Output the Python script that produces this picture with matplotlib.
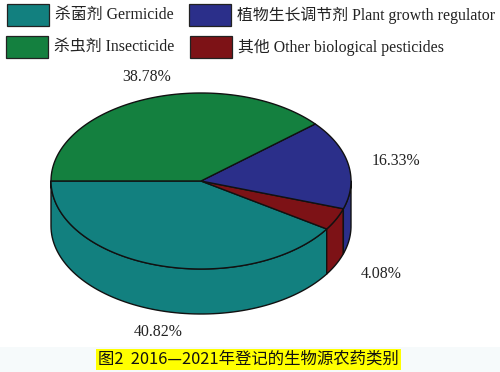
import numpy as np
import matplotlib
matplotlib.use("Agg")
import matplotlib.pyplot as plt
from matplotlib.patches import Polygon, Rectangle

categories = ["杀菌剂 Germicide", "其他 Other biological pesticides",
              "植物生长调节剂 Plant growth regulator", "杀虫剂 Insecticide"]
shares = [40.82, 4.08, 16.33, 38.78]
share_labels = ["40.82%", "4.08%", "16.33%", "38.78%"]
caption = "图2  2016—2021年登记的生物源农药类别"

colors = ["#12807f", "#7d1216", "#2b2f8a", "#14803f"]
FONTS = ["Liberation Serif", "Noto Sans CJK SC"]
CAP_FONTS = ["Noto Sans CJK SC"]
TEXT = "#222222"

cx, cy, rx, ry, depth = 201, 181, 150, 88, 45

fig = plt.figure(figsize=(5, 3.72), dpi=100, facecolor="white")
ax = fig.add_axes([0, 0, 1, 1])
ax.set_xlim(0, 500)
ax.set_ylim(372, 0)
ax.axis("off")

# caption band
ax.add_patch(Rectangle((0, 347), 500, 25, fc="#f6fafb", ec="none", zorder=0))
ax.add_patch(Rectangle((96, 349), 305, 21, fc="#ffff00", ec="none", zorder=1))
ax.text(248.5, 359.5, caption, ha="center", va="center", fontsize=11.8,
        family=CAP_FONTS, color="#111111", zorder=2)

def pt(t, dy=0):
    t = np.radians(t)
    return np.column_stack([cx + rx * np.cos(t), cy + ry * np.sin(t) + dy])

edges = 180 - np.cumsum([0] + shares) / sum(shares) * 360

# side faces
for i, col in enumerate(colors):
    a, b = edges[i], edges[i + 1]
    lo, hi = max(b, 0), min(a, 180)
    if hi <= lo:
        continue
    ts = np.linspace(hi, lo, 80)
    poly = np.vstack([pt(ts), pt(ts[::-1], depth)])
    ax.add_patch(Polygon(poly, closed=True, fc=col, ec="#111111", lw=1.0,
                         joinstyle="round", zorder=3))

# top faces
for i, col in enumerate(colors):
    ts = np.linspace(edges[i], edges[i + 1], 120)
    poly = np.vstack([[[cx, cy]], pt(ts)])
    ax.add_patch(Polygon(poly, closed=True, fc=col, ec="#111111", lw=1.0,
                         joinstyle="round", zorder=4))

# share labels
label_xy = [(158, 332), (381, 274), (396, 161), (147, 77)]
for s, (x, y) in zip(share_labels, label_xy):
    ax.text(x, y, s, ha="center", va="center", fontsize=11.4,
            family=FONTS, color=TEXT)

# legend
legend_pos = [(7, 4, 55, 15), (190, 36, 238, 47), (189, 4, 237, 15), (6, 36, 54, 47)]
for (x, y, tx, ty), col, name in zip(legend_pos, colors, categories):
    ax.add_patch(Rectangle((x, y), 42, 21.5, fc=col, ec="#222222", lw=0.9))
    ax.text(tx, ty, name, ha="left", va="center", fontsize=11.4,
            family=FONTS, color=TEXT)

fig.savefig("out.png", dpi=100)
